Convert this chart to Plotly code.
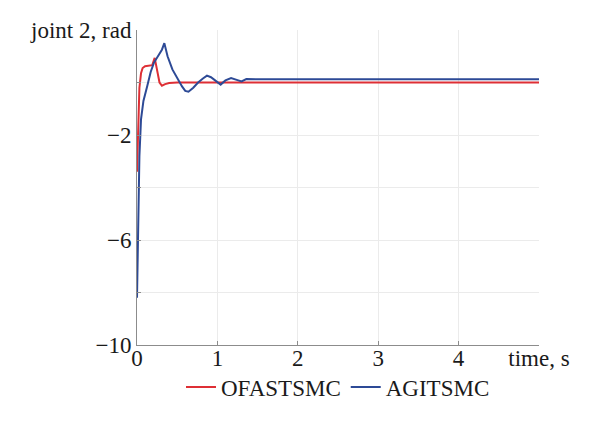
import plotly.graph_objects as go

# joint 2 response
t_ofast = [0, 0.01, 0.02, 0.03, 0.05, 0.07, 0.1, 0.15, 0.19, 0.22, 0.25, 0.28,
           0.31, 0.35, 0.4, 0.5, 1.0, 5.0]
q_ofast = [-3.4, -2.2, -1.0, -0.2, 0.35, 0.55, 0.62, 0.63, 0.66, 0.94, 0.45, 0.0,
           -0.12, -0.06, -0.02, 0.0, 0.0, 0.0]

t_agit = [0, 0.01, 0.02, 0.03, 0.05, 0.08, 0.13, 0.17, 0.21, 0.27, 0.31, 0.34,
          0.38, 0.44, 0.5, 0.56, 0.6, 0.64, 0.7, 0.76, 0.82, 0.87, 0.92, 0.98,
          1.04, 1.1, 1.17, 1.24, 1.3, 1.36, 1.5, 5.0]
q_agit = [-8.2, -6.0, -4.2, -2.8, -1.4, -0.7, -0.1, 0.4, 0.75, 1.05, 1.25, 1.5,
          1.0, 0.5, 0.15, -0.15, -0.32, -0.35, -0.2, 0.0, 0.15, 0.26, 0.2, 0.05,
          -0.08, 0.08, 0.17, 0.1, 0.04, 0.13, 0.12, 0.12]

x_ticks = [0, 1, 2, 3, 4, 5]
x_labels = ["0", "1", "2", "3", "4", "time, s"]
y_ticks = [-10, -8, -6, -4, -2, 0, 2]
y_labels = ["\u221210", "", "\u22126", "", "\u22122", "", "joint 2, rad"]

FONT = "Liberation Serif"
RED = "#de2f35"
BLUE = "#2d4a96"

fig = go.Figure()
fig.add_trace(go.Scatter(x=t_ofast, y=q_ofast, mode="lines", name="OFASTSMC",
                         line=dict(color=RED, width=2)))
fig.add_trace(go.Scatter(x=t_agit, y=q_agit, mode="lines", name="AGITSMC",
                         line=dict(color=BLUE, width=2)))

axis_common = dict(
    showgrid=True,
    gridcolor="#ebebeb",
    gridwidth=1,
    zeroline=False,
    showline=True,
    linecolor="#8c8c8c",
    linewidth=1,
    ticks="inside",
    ticklen=4,
    tickcolor="#8c8c8c",
    tickfont=dict(family=FONT, size=23, color="#1a1a1a"),
    tickmode="array",
    automargin=False,
)

# page body adds an 8px offset, so margins are shifted to compensate
fig.update_layout(
    width=600,
    height=423,
    plot_bgcolor="white",
    paper_bgcolor="white",
    margin=dict(l=129, r=69, t=22, b=86),
    xaxis=dict(axis_common, range=[0, 5], tickvals=x_ticks, ticktext=x_labels,
               ticklabelstandoff=-8),
    yaxis=dict(axis_common, range=[-10, 2], tickvals=y_ticks, ticktext=y_labels),
    showlegend=True,
    legend=dict(
        orientation="h",
        x=0.5,
        xanchor="center",
        y=-0.065,
        yanchor="top",
        bgcolor="rgba(0,0,0,0)",
        font=dict(family=FONT, size=23, color="#1a1a1a"),
        itemwidth=30,
        tracegroupgap=0,
    ),
)

fig.write_html("out.html")
